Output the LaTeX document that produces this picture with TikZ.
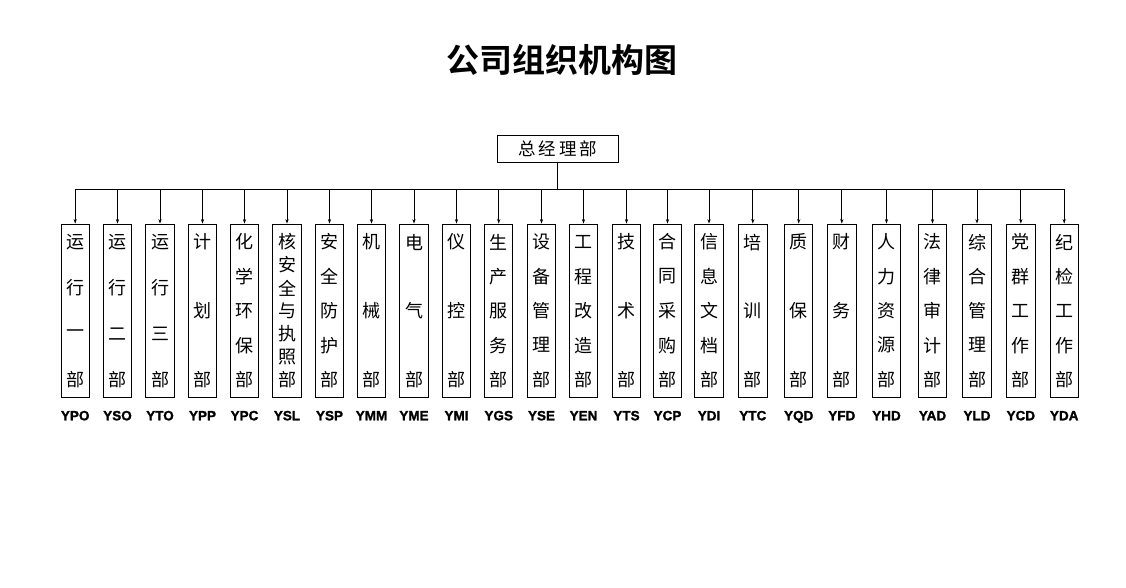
\documentclass[tikz,border=0pt]{standalone}
\usepackage{fontspec}
\newfontfamily\cjk{Noto Sans CJK SC}
\newfontfamily\cjkb{Noto Sans CJK SC Bold}
\newfontfamily\codefont{Liberation Sans Bold}[FakeBold=1.6]
\setmainfont{Liberation Sans}
\usetikzlibrary{calc,arrows.meta}
\tikzset{
  deptbox/.style={draw=black,line width=0.9pt,minimum width=28.4pt,minimum height=173.5pt,inner sep=0pt,fill=white},
  gmbox/.style={draw=black,line width=0.9pt,minimum width=121pt,minimum height=27pt,inner sep=0pt},
  dchar/.style={font=\cjk\fontsize{18}{18}\selectfont,inner sep=0pt},
  deptcode/.style={font=\codefont\fontsize{13.5}{13.5}\selectfont,inner sep=0pt,anchor=base},
  titlestyle/.style={font=\cjkb\fontsize{33}{33}\selectfont,inner sep=0pt},
  link/.style={draw=black,line width=0.9pt},
  arr/.style={link,-{Stealth[length=4.5pt,width=3.2pt]}}
}
\newcommand\dept[5]{%
  \node[deptbox] (#2) at (#1,310.8) {};
  \foreach \c [count=\i] in {#4} {
    \node[dchar] (#2-\i) at ($(#2.north)+(0,{18.5+(\i-1)*137.5/(#3-1)})$) {\c};
  }
  \node[deptcode] (#2c) at (#1,420.3) {#5};
  \draw[arr] (#2.north |- bus) -- (#2.north);
}
\begin{document}
\begin{tikzpicture}[x=1pt,y=-1pt]
\useasboundingbox (0,0) rectangle (1126,587);
\node[titlestyle] (title) at (562.3,60) {公司组织机构图};
\node[gmbox] (gm) at (557.8,148.8) {\cjk\fontsize{17.5}{17.5}\selectfont 总\hspace{3pt}经\hspace{3pt}理\hspace{3pt}部};
\coordinate (bus) at (557.8,189.3);
\dept{75.2}{ypo}{4}{运,行,一,部}{YPO}
\dept{117.5}{yso}{4}{运,行,二,部}{YSO}
\dept{160}{yto}{4}{运,行,三,部}{YTO}
\dept{202.5}{ypp}{3}{计,划,部}{YPP}
\dept{244.5}{ypc}{5}{化,学,环,保,部}{YPC}
\dept{287}{ysl}{7}{核,安,全,与,执,照,部}{YSL}
\dept{329.5}{ysp}{5}{安,全,防,护,部}{YSP}
\dept{371.5}{ymm}{3}{机,械,部}{YMM}
\dept{414}{yme}{3}{电,气,部}{YME}
\dept{456.5}{ymi}{3}{仪,控,部}{YMI}
\dept{498.7}{ygs}{5}{生,产,服,务,部}{YGS}
\dept{541.5}{yse}{5}{设,备,管,理,部}{YSE}
\dept{583.5}{yen}{5}{工,程,改,造,部}{YEN}
\dept{626.5}{yts}{3}{技,术,部}{YTS}
\dept{667.5}{ycp}{5}{合,同,采,购,部}{YCP}
\dept{709}{ydi}{5}{信,息,文,档,部}{YDI}
\dept{752.8}{ytc}{3}{培,训,部}{YTC}
\dept{798.7}{yqd}{3}{质,保,部}{YQD}
\dept{841.8}{yfd}{3}{财,务,部}{YFD}
\dept{886.5}{yhd}{5}{人,力,资,源,部}{YHD}
\dept{932.5}{yad}{5}{法,律,审,计,部}{YAD}
\dept{977}{yld}{5}{综,合,管,理,部}{YLD}
\dept{1020.8}{ycd}{5}{党,群,工,作,部}{YCD}
\dept{1064.2}{yda}{5}{纪,检,工,作,部}{YDA}
\draw[link] (gm.south) -- (bus);
\draw[link] (ypo.north |- bus) -- (yda.north |- bus);
\end{tikzpicture}
\end{document}
